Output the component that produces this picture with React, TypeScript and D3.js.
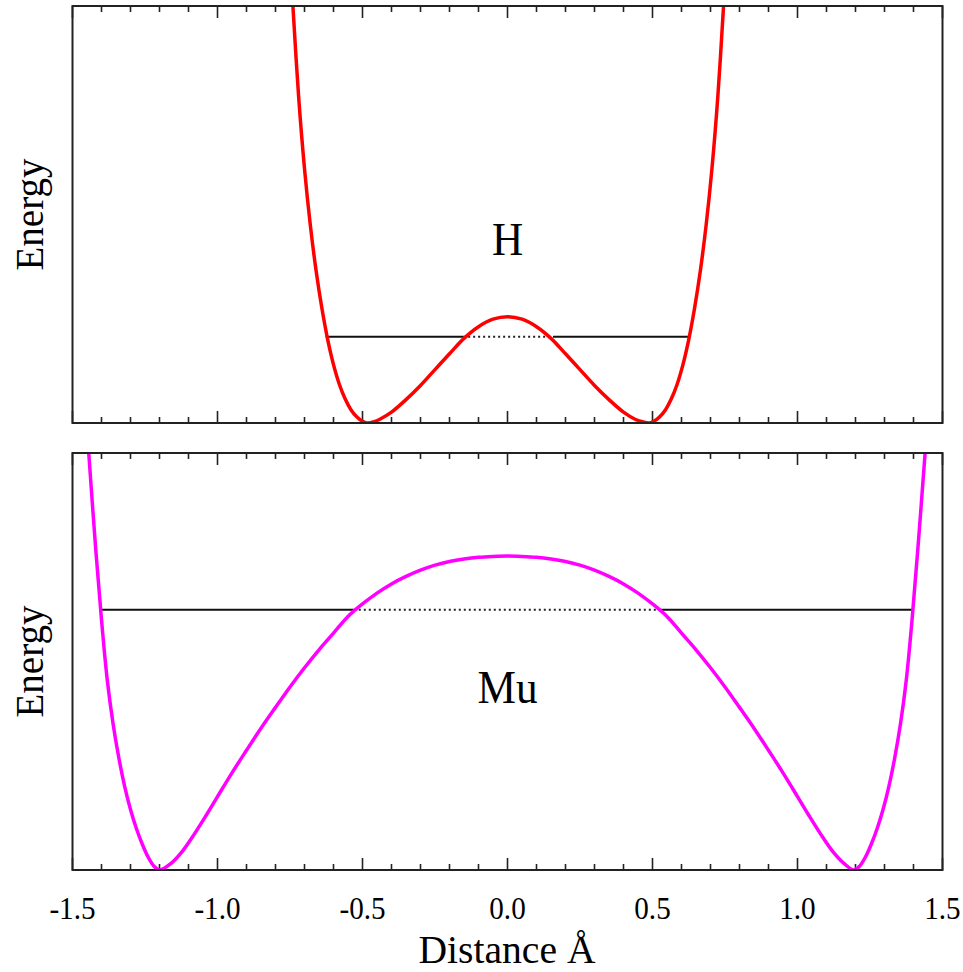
import React from "react";
import * as d3 from "d3";

// ---------- data ----------
const X_TICKS_MAJOR = [-1.5, -1.0, -0.5, 0.0, 0.5, 1.0, 1.5];
const X_TICK_LABELS = ["-1.5", "-1.0", "-0.5", "0.0", "0.5", "1.0", "1.5"];

// H (hydrogen) double-well, energy in % of panel height
const H_X = [-0.74, -0.72, -0.70, -0.68, -0.66, -0.64, -0.62, -0.60, -0.58, -0.56, -0.54, -0.52, -0.50, -0.485,
  -0.46, -0.44, -0.40, -0.35, -0.30, -0.25, -0.20, -0.15, -0.10, -0.05, 0,
  0.05, 0.10, 0.15, 0.20, 0.25, 0.30, 0.35, 0.40, 0.44, 0.465,
  0.49, 0.505, 0.525, 0.545, 0.565, 0.585, 0.605, 0.625, 0.645, 0.665, 0.685, 0.705, 0.725, 0.745];
const H_E = [100, 78, 61, 47.5, 36.5, 27.5, 20, 14, 9.3, 5.8, 3.2, 1.5, 0.4, 0,
  0.3, 0.9, 2.6, 5.6, 9.0, 12.8, 16.6, 20.3, 23.1, 24.9, 25.5,
  24.9, 23.1, 20.3, 16.6, 12.8, 9.0, 5.6, 2.6, 0.9, 0.3,
  0, 0.4, 1.5, 3.2, 5.8, 9.3, 14, 20, 27.5, 36.5, 47.5, 61, 78, 100];
const H_LEVEL = { e: 20.7, x0: -0.627, x1: 0.629, d0: -0.153, d1: 0.157 };

// Mu (muonium) double-well
const MU_X = [-1.444, -1.42, -1.40, -1.38, -1.36, -1.34, -1.32, -1.30, -1.28, -1.26, -1.24, -1.22, -1.20,
  -1.16, -1.12, -1.08, -1.04, -1.00, -0.95, -0.90, -0.85, -0.80, -0.75, -0.70, -0.65, -0.60, -0.55, -0.50,
  -0.45, -0.40, -0.35, -0.30, -0.25, -0.20, -0.15, -0.10, -0.05, 0,
  0.05, 0.10, 0.15, 0.20, 0.25, 0.30, 0.35, 0.40, 0.45,
  0.50, 0.55, 0.60, 0.65, 0.70, 0.75, 0.80, 0.85, 0.90, 0.95, 1.00, 1.04, 1.08, 1.12, 1.16,
  1.195, 1.215, 1.235, 1.255, 1.275, 1.295, 1.315, 1.335, 1.355, 1.375, 1.395, 1.415, 1.44];
const MU_E = [100, 77, 60, 45.5, 35, 26.8, 20, 14.5, 10, 6.3, 3.2, 1.0, 0,
  1.6, 4.6, 8.6, 13.0, 17.6, 23.3, 28.7, 34.0, 39.0, 43.9, 48.5, 52.8, 56.8, 60.8, 63.8,
  66.4, 68.6, 70.4, 71.9, 73.1, 74.0, 74.6, 75.0, 75.2, 75.3,
  75.2, 75.0, 74.6, 74.0, 73.1, 71.9, 70.4, 68.6, 66.4,
  63.8, 60.8, 56.8, 52.8, 48.5, 43.9, 39.0, 34.0, 28.7, 23.3, 17.6, 13.0, 8.6, 4.6, 1.6,
  0, 1.0, 3.2, 6.3, 10, 14.5, 20, 26.8, 35, 45.5, 60, 77, 100];
const MU_LEVEL = { e: 62.4, x0: -1.4, x1: 1.4, d0: -0.53, d1: 0.527 };

const PANELS = [
  { label: "H", color: "#ff0000", xs: H_X, es: H_E, level: H_LEVEL, top: 6, bottom: 423, labelY: 255 },
  { label: "Mu", color: "#ff00ff", xs: MU_X, es: MU_E, level: MU_LEVEL, top: 453, bottom: 870, labelY: 703 },
];

const W = 963, H = 972;
const LEFT = 72.5, RIGHT = 942.5;
const SERIF = "'Liberation Serif', 'DejaVu Serif', serif";

export default function App() {
  const x = d3.scaleLinear().domain([-1.5, 1.5]).range([LEFT, RIGHT]);
  const minorTicks = d3.range(-15, 16).map((i) => i / 10);

  return (
    <svg width={W} height={H} style={{ position: "absolute", left: 0, top: 0, background: "#fff" }}>
      <defs>
        {PANELS.map((p, i) => (
          <clipPath id={`clip${i}`} key={i}>
            <rect x={LEFT} y={p.top} width={RIGHT - LEFT} height={p.bottom - p.top} />
          </clipPath>
        ))}
      </defs>
      {PANELS.map((p, i) => {
        const y = d3.scaleLinear().domain([0, 100]).range([p.bottom, p.top]);
        const line = d3.line<number>().x((_, k) => x(p.xs[k])).y((d) => y(d)).curve(d3.curveCatmullRom.alpha(0.5));
        const lv = p.level;
        const midY = (p.top + p.bottom) / 2;
        return (
          <g key={i}>
            {minorTicks.map((t, k) => {
              const major = Math.abs(t * 2 - Math.round(t * 2)) < 1e-6;
              const len = major ? 12 : 6;
              return (
                <g key={k} stroke="#222" strokeWidth={1.6}>
                  <line x1={x(t)} x2={x(t)} y1={p.top} y2={p.top + len} />
                  <line x1={x(t)} x2={x(t)} y1={p.bottom} y2={p.bottom - len} />
                </g>
              );
            })}
            <line x1={x(lv.x0)} x2={x(lv.d0)} y1={y(lv.e)} y2={y(lv.e)} stroke="#111" strokeWidth={2} />
            <line x1={x(lv.d1)} x2={x(lv.x1)} y1={y(lv.e)} y2={y(lv.e)} stroke="#111" strokeWidth={2} />
            <line x1={x(lv.d0)} x2={x(lv.d1)} y1={y(lv.e)} y2={y(lv.e)} stroke="#222" strokeWidth={2} strokeDasharray="2,3" />
            <path d={line(p.es) || ""} fill="none" stroke={p.color} strokeWidth={3.5} clipPath={`url(#clip${i})`} />
            <rect x={LEFT} y={p.top} width={RIGHT - LEFT} height={p.bottom - p.top} fill="none" stroke="#222" strokeWidth={2} />
            <text x={x(0)} y={p.labelY} textAnchor="middle" fontFamily={SERIF} fontSize={46}
              transform={`translate(${x(0)},0) scale(0.94,1) translate(${-x(0)},0)`}>{p.label}</text>
            <text transform={`translate(43,${midY}) rotate(-90)`} textAnchor="middle" fontFamily={SERIF} fontSize={39}>Energy</text>
          </g>
        );
      })}
      {X_TICKS_MAJOR.map((t, k) => (
        <text key={k} x={x(t)} y={919} textAnchor="middle" fontFamily={SERIF} fontSize={31}
          transform={`translate(${x(t)},0) scale(0.94,1) translate(${-x(t)},0)`}>{X_TICK_LABELS[k]}</text>
      ))}
      <text x={507} y={963} textAnchor="middle" fontFamily={SERIF} fontSize={40}
        transform={`translate(507,0) scale(0.99,1) translate(-507,0)`}>Distance Å</text>
    </svg>
  );
}
